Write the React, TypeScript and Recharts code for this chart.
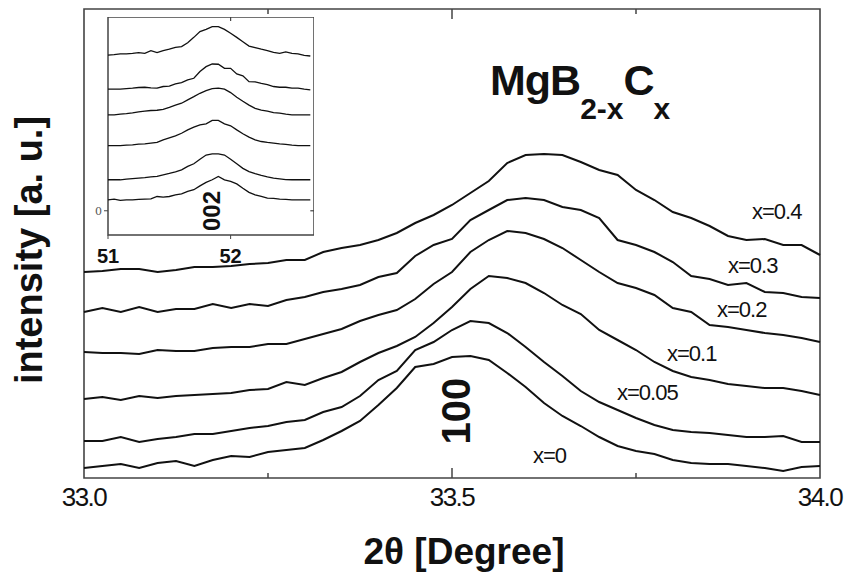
import React from "react";
import { LineChart, Line, XAxis, YAxis, ReferenceArea, ReferenceLine } from "recharts";

// ---- main panel: 2θ (degree) and intensity (a.u.) ----
const twoTheta = [
  33.0, 33.025, 33.05, 33.075, 33.1, 33.125, 33.15, 33.175, 33.2, 33.225,
  33.25, 33.275, 33.3, 33.325, 33.35, 33.375, 33.4, 33.425, 33.45, 33.475,
  33.5, 33.525, 33.55, 33.575, 33.6, 33.625, 33.65, 33.675, 33.7, 33.725,
  33.75, 33.775, 33.8, 33.825, 33.85, 33.875, 33.9, 33.925, 33.95, 33.975, 34.0,
];
const seriesX0 = [10,12,14,10,15,17,12,18,22,21,26,28,30,38,47,57,73,90,111,114,121,122,118,105,91,75,62,52,41,32,27,24,18,15,14,14,12,10,7,11,12];
const seriesX005 = [37,37,41,36,39,41,44,44,47,50,52,56,58,66,71,82,98,107,128,136,148,157,155,145,131,116,102,87,76,68,60,53,48,46,45,43,41,41,42,36,36];
const seriesX01 = [79,81,78,82,80,82,83,84,85,88,89,96,93,100,106,116,125,132,141,155,171,189,202,200,195,185,173,164,148,138,128,116,107,101,98,94,92,90,90,87,83];
const seriesX02 = [126,125,125,124,128,127,127,130,131,131,134,134,139,144,149,157,163,168,179,194,206,226,238,247,245,239,230,218,206,195,190,183,170,166,153,151,148,145,143,140,136];
const seriesX03 = [166,170,166,171,166,169,169,174,170,174,172,178,181,186,189,193,201,205,222,233,239,258,268,278,280,278,271,268,260,238,233,226,216,202,199,193,195,186,185,181,180];
const seriesX04 = [206,207,209,209,206,208,211,211,212,214,215,218,218,226,230,233,238,245,255,263,273,285,297,315,323,324,323,316,308,303,288,278,266,260,252,242,238,239,233,233,223];

const mainTicks = [33.0, 33.5, 34.0];
const minorTicks = [33.25, 33.75];
const majorInner = [33.5];

// ---- inset: 002 reflection ----
const insetTheta = [
  51.0, 51.05, 51.1, 51.15, 51.2, 51.25, 51.3, 51.35, 51.4, 51.45,
  51.5, 51.55, 51.6, 51.65, 51.7, 51.75, 51.8, 51.85, 51.9, 51.95,
  52.0, 52.05, 52.1, 52.15, 52.2, 52.25, 52.3, 52.35, 52.4, 52.45,
  52.5, 52.55, 52.6, 52.65,
];
const inset1 = [6.43,6.45,6.48,6.48,6.5,6.53,6.5,6.61,6.53,6.61,6.67,6.75,6.78,6.94,7.16,7.4,7.49,7.6,7.6,7.49,7.33,7.16,6.98,6.8,6.74,6.67,6.61,6.54,6.5,6.56,6.5,6.48,6.42,6.39];
const inset2 = [5.02,5.02,5.02,5.04,5.06,5.09,5.1,5.07,5.06,5.13,5.15,5.24,5.29,5.4,5.47,5.75,5.95,6.06,6.05,5.88,5.88,5.65,5.57,5.33,5.32,5.26,5.21,5.13,5.1,5.1,5.06,5.06,5.02,4.99];
const inset3 = [3.96,3.96,3.99,4.01,4.04,4.08,4.11,4.14,4.15,4.19,4.27,4.36,4.44,4.58,4.71,4.85,4.96,5.04,5.06,5.02,4.88,4.69,4.52,4.36,4.23,4.16,4.11,4.05,4.03,3.99,3.96,3.96,3.96,3.96];
const inset4 = [2.69,2.69,2.69,2.71,2.72,2.75,2.76,2.79,2.82,2.93,3.01,3.09,3.2,3.34,3.45,3.55,3.59,3.73,3.73,3.59,3.51,3.34,3.18,3.04,2.93,2.86,2.82,2.79,2.76,2.74,2.71,2.69,2.69,2.69];
const inset5 = [1.28,1.28,1.28,1.31,1.33,1.35,1.37,1.4,1.42,1.48,1.54,1.61,1.69,1.83,1.94,2.13,2.3,2.35,2.35,2.3,2.13,1.94,1.75,1.62,1.53,1.46,1.4,1.35,1.32,1.29,1.28,1.28,1.28,1.28];
const inset6 = [0.45,0.48,0.43,0.45,0.45,0.47,0.48,0.49,0.59,0.56,0.59,0.66,0.7,0.8,0.87,1.03,1.17,1.28,1.42,1.28,1.21,1.11,0.93,0.76,0.66,0.59,0.52,0.51,0.48,0.47,0.45,0.45,0.45,0.45];
const insetTicks = [51, 52];
const insetYTicks = [0];

const curveLabels = ["x=0.4", "x=0.3", "x=0.2", "x=0.1", "x=0.05", "x=0"];

const mainData = twoTheta.map((t, i) => ({
  t,
  s0: seriesX0[i],
  s005: seriesX005[i],
  s01: seriesX01[i],
  s02: seriesX02[i],
  s03: seriesX03[i],
  s04: seriesX04[i],
}));
const insetData = insetTheta.map((t, i) => ({
  t,
  c1: inset1[i],
  c2: inset2[i],
  c3: inset3[i],
  c4: inset4[i],
  c5: inset5[i],
  c6: inset6[i],
}));

const FONT = "'Liberation Sans', Arial, Helvetica, sans-serif";
const mainKeys = ["s0", "s005", "s01", "s02", "s03", "s04"];
const insetKeys = ["c1", "c2", "c3", "c4", "c5", "c6"];

export default function App() {
  return (
    <div style={{ position: "absolute", left: 0, top: 0, width: 848, height: 576, background: "#fff", overflow: "hidden" }}>
      <div style={{ position: "absolute", left: 0, top: 0 }}>
        <LineChart width={848} height={576} data={mainData} margin={{ top: 9, right: 28, left: 84, bottom: 68 }}>
          <XAxis
            dataKey="t"
            type="number"
            domain={[33, 34]}
            ticks={mainTicks}
            interval={0}
            tickFormatter={(v: number) => v.toFixed(1)}
            tickLine={false}
            axisLine={false}
            tickMargin={4}
            height={30}
            tick={{ fontSize: 26, fill: "#111", fontFamily: FONT, letterSpacing: -1.5 }}
          />
          <YAxis hide width={0} type="number" domain={[0, 469]} />
          <ReferenceArea x1={33} x2={34} y1={0} y2={469} fill="none" stroke="#444" strokeWidth={1.6} />
          {minorTicks.map((t) => (
            <ReferenceLine key={"mb" + t} segment={[{ x: t, y: 0 }, { x: t, y: 5 }]} stroke="#444" strokeWidth={1.5} />
          ))}
          {minorTicks.map((t) => (
            <ReferenceLine key={"mt" + t} segment={[{ x: t, y: 469 }, { x: t, y: 464 }]} stroke="#444" strokeWidth={1.5} />
          ))}
          {majorInner.map((t) => (
            <ReferenceLine key={"Mb" + t} segment={[{ x: t, y: 0 }, { x: t, y: 10 }]} stroke="#444" strokeWidth={1.5} />
          ))}
          {majorInner.map((t) => (
            <ReferenceLine key={"Mt" + t} segment={[{ x: t, y: 469 }, { x: t, y: 459 }]} stroke="#444" strokeWidth={1.5} />
          ))}
          {mainKeys.map((k) => (
            <Line key={k} dataKey={k} type="linear" stroke="#111" strokeWidth={2} dot={false} isAnimationActive={false} />
          ))}
        </LineChart>
      </div>
      <div style={{ position: "absolute", left: 88, top: 17 }}>
        <LineChart width={226} height={250} data={insetData} margin={{ top: 0, right: 0, left: 0, bottom: 0 }}>
          <XAxis
            dataKey="t"
            type="number"
            domain={[51, 52.68]}
            ticks={insetTicks}
            interval={0}
            tickSize={4}
            tickMargin={10}
            height={32}
            axisLine={false}
            stroke="#444"
            tick={{ fontSize: 20, fill: "#111", fontFamily: FONT, fontWeight: 600 }}
          />
          <YAxis
            type="number"
            width={20}
            domain={[-1, 8]}
            ticks={insetYTicks}
            tickSize={4}
            tickMargin={2}
            axisLine={false}
            stroke="#444"
            tick={{ fontSize: 11, fill: "#555", fontFamily: "'DejaVu Serif', serif" }}
          />
          <ReferenceArea x1={51} x2={52.68} y1={-1} y2={8} fill="#fff" fillOpacity={1} stroke="#444" strokeWidth={1.5} />
          <ReferenceLine segment={[{ x: 52, y: 8 }, { x: 52, y: 7.83 }]} stroke="#444" strokeWidth={1.2} />
          <ReferenceLine segment={[{ x: 52.68, y: 0 }, { x: 52.65, y: 0 }]} stroke="#444" strokeWidth={1.2} />
          {insetKeys.map((k) => (
            <Line key={k} dataKey={k} type="linear" stroke="#111" strokeWidth={1.3} dot={false} isAnimationActive={false} />
          ))}
        </LineChart>
      </div>
      <svg width={848} height={576} style={{ position: "absolute", left: 0, top: 0, pointerEvents: "none" }}>
        <text x={-250} y={42} transform="rotate(-90)" textAnchor="middle" fontSize={38} fontWeight="bold" fontFamily={FONT} fill="#111">
          intensity [a. u.]
        </text>
        <text x={464} y={564} textAnchor="middle" fontSize={37} fontWeight="bold" fontFamily={FONT} fill="#111">
          2θ [Degree]
        </text>
        <text x={490} y={95} fontSize={43} fontWeight="bold" fontFamily={FONT} fill="#111" letterSpacing={-1}>
          MgB
          <tspan fontSize={30} dy={24} letterSpacing={0}>2-x</tspan>
          <tspan fontSize={43} dy={-24} letterSpacing={-1}>C</tspan>
          <tspan fontSize={30} dy={24} letterSpacing={0}>x</tspan>
        </text>
        <text x={752} y={219} fontSize={22} fontFamily={FONT} fill="#111" letterSpacing={-1}>{curveLabels[0]}</text>
        <text x={728} y={273} fontSize={22} fontFamily={FONT} fill="#111" letterSpacing={-1}>{curveLabels[1]}</text>
        <text x={717} y={317} fontSize={22} fontFamily={FONT} fill="#111" letterSpacing={-1}>{curveLabels[2]}</text>
        <text x={667} y={361} fontSize={22} fontFamily={FONT} fill="#111" letterSpacing={-1}>{curveLabels[3]}</text>
        <text x={617} y={400} fontSize={22} fontFamily={FONT} fill="#111" letterSpacing={-1}>{curveLabels[4]}</text>
        <text x={533} y={463} fontSize={22} fontFamily={FONT} fill="#111" letterSpacing={-1}>{curveLabels[5]}</text>
        <text x={-411} y={470} transform="rotate(-90)" textAnchor="middle" fontSize={40} fontWeight="bold" fontFamily={FONT} fill="#111">
          100
        </text>
        <text x={-211} y={220} transform="rotate(-90)" textAnchor="middle" fontSize={24} fontWeight="bold" fontFamily={FONT} fill="#111">
          002
        </text>
      </svg>
    </div>
  );
}
